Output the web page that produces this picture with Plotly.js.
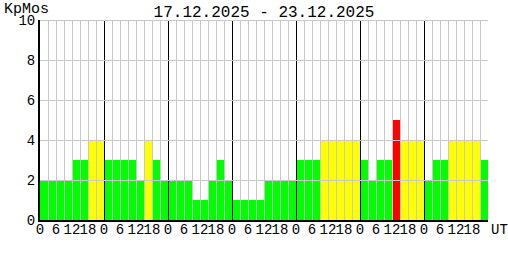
<!DOCTYPE html>
<html>
<head>
<meta charset="utf-8">
<script src="https://cdn.plot.ly/plotly-3.0.1.min.js"></script>
<style>
html,body{margin:0;padding:0;background:#fff;}
#chart{width:508px;height:260px;}
.shapelayer path{shape-rendering:crispEdges;}
</style>
</head>
<body>
<div id="chart"></div>
<script>
// Kp index (KpMos), 3-hour intervals, 17.12.2025 - 23.12.2025
const days = ["17.12.2025","18.12.2025","19.12.2025","20.12.2025","21.12.2025","22.12.2025","23.12.2025"];
const hourLabels = ["0","6","12","18"];
const kpValues = [
  2,2,2,2,3,3,4,4,
  3,3,3,3,2,4,3,2,
  2,2,2,1,1,2,3,2,
  1,1,1,1,2,2,2,2,
  3,3,3,4,4,4,4,4,
  3,2,3,3,5,4,4,4,
  2,3,3,4,4,4,4,3
];
const yTicks = [0,2,4,6,8,10];

const perDay = 8;
const nBars = kpValues.length;
const xCenters = kpValues.map((v,i)=>i+0.5);
const colors = kpValues.map(v => v>=5 ? "#ff0000" : (v>=4 ? "#ffff00" : "#00ff00"));

const tickvals = [], ticktext = [];
for (let i=0;i<nBars;i+=2){ tickvals.push(i); ticktext.push(hourLabels[(i/2)%4]); }

const shapes = [];
for (let i=1;i<=nBars;i++){
  const black = (i%perDay===0) && i<nBars;
  shapes.push({type:"line", layer:"above", xref:"x", yref:"y", x0:i, x1:i, y0:0, y1:10,
    line:{color: black ? "#000000" : "#c8c8c8", width:1}});
}
yTicks.filter(v=>v>0).forEach(v=>{
  shapes.push({type:"line", layer:"above", xref:"x", yref:"y", x0:0, x1:nBars, y0:v, y1:v,
    line:{color:"#c8c8c8", width:1}});
});

const mono = "Liberation Mono, DejaVu Sans Mono, monospace";

const trace = {
  type:"bar", x:xCenters, y:kpValues, width:1,
  marker:{color:colors, line:{width:0}},
  hoverinfo:"skip"
};

const layout = {
  width:508, height:260,
  margin:{l:40, r:20, t:20, b:40, pad:0},
  paper_bgcolor:"#ffffff", plot_bgcolor:"#ffffff",
  showlegend:false,
  bargap:0,
  title:{text: days[0] + " - " + days[days.length-1], font:{family:mono, size:16, color:"#000"},
    x:0.5, xref:"paper", xanchor:"center", y:1-11/260, yref:"container", yanchor:"middle"},
  xaxis:{range:[0,nBars], tickvals:tickvals, ticktext:ticktext, tickangle:0,
    showgrid:false, zeroline:false, showline:true, linecolor:"#000", linewidth:2,
    ticks:"", ticklabelstandoff:-5, tickfont:{family:mono, size:14, color:"#000"}, fixedrange:true},
  yaxis:{range:[0,10], tickvals:yTicks, showgrid:false, zeroline:false,
    showline:true, linecolor:"#000", linewidth:2,
    ticks:"", tickfont:{family:mono, size:14, color:"#000"}, fixedrange:true},
  shapes:shapes,
  annotations:[
    {text:"KpMos", xref:"paper", yref:"paper", x:-38/448, y:1+11/200, xanchor:"left", yanchor:"middle",
     showarrow:false, font:{family:mono, size:15, color:"#000"}},
    {text:"UT", xref:"paper", yref:"paper", x:(489-40)/448, y:-10/200, xanchor:"left", yanchor:"middle",
     showarrow:false, font:{family:mono, size:14, color:"#000"}}
  ]
};

Plotly.newPlot("chart", [trace], layout, {displayModeBar:false, staticPlot:true});
</script>
</body>
</html>
